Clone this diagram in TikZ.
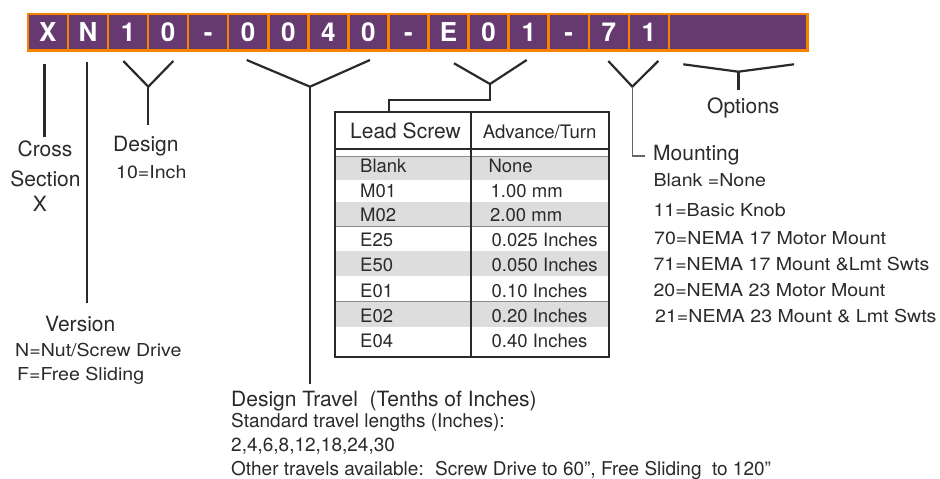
\documentclass[tikz,border=0pt]{standalone}
\usepackage{fontspec}
\setmainfont{TeX Gyre Heros}
\newfontfamily\widefont{TeX Gyre Heros}[FakeStretch=1.1]
\definecolor{barpurple}{HTML}{663A70}
\definecolor{barorange}{HTML}{F58200}
\definecolor{rowgray}{HTML}{DDDDDD}
\definecolor{ink}{HTML}{2A2A2A}
\begin{document}
\begin{tikzpicture}[x=1pt,y=-1pt,
  lbl/.style={font=\fontsize{21}{25}\selectfont, inner sep=0pt, text=ink},
  sm/.style={font=\widefont\fontsize{17.8}{22}\selectfont, inner sep=0pt, text=ink},
  tb/.style={font=\fontsize{18.5}{22}\selectfont, inner sep=0pt, text=ink},
  bt/.style={font=\fontsize{19}{23}\selectfont, inner sep=0pt, text=ink},
  cellbox/.style={draw=barorange, line width=2.6pt, fill=barpurple, minimum width=40.075pt, minimum height=36.7pt, inner sep=0pt, text height=18.7pt, text depth=0pt, text=white, font=\bfseries\fontsize{26}{30}\selectfont},
  brk/.style={line width=2.2pt, draw=ink},
  stem/.style={line width=1.6pt, draw=black!60},
  tabline/.style={line width=2.3pt, draw=ink},
  rowline/.style={line width=0.8pt, draw=black!45},
  ]
\useasboundingbox (0,0) rectangle (940,479);

% ---- code bar ----
\foreach \c [count=\i from 0] in {X,N,1,0,-,0,0,4,0,-,E,0,1,-,7,1}
  \node[cellbox] (c\i) at ({27.8+40.075*(\i+0.5)}, 32.15) {\c};
\node[cellbox, minimum width=138.3pt] (c16) at (738.15,32.15) {};

% ---- coordinates of brackets ----
\coordinate (crossT) at (44.5,64.3);  \coordinate (crossB) at (44.5,136.7);
\coordinate (verT) at (86.7,62.3);    \coordinate (verB) at (86.7,303.3);
\coordinate (dL) at (123.3,61); \coordinate (dV) at (148.3,86.7);
\coordinate (dR) at (173.3,61); \coordinate (dS) at (148.3,125);
\coordinate (tL) at (246.7,60); \coordinate (tV) at (310,86.7);
\coordinate (tR) at (370,60);   \coordinate (tS) at (310,384);
\coordinate (lL) at (454,63.3); \coordinate (lV) at (490,84);
\coordinate (lR) at (526.7,60); \coordinate (lE) at (389.3,100);
\coordinate (tabTop) at (389.3,112.2);
\coordinate (mL) at (608.3,61); \coordinate (mV) at (632.3,86.7);
\coordinate (mR) at (658.3,61); \coordinate (mE) at (645,156);
\coordinate (oL) at (683.3,64.3); \coordinate (oV) at (738.3,71.7);
\coordinate (oR) at (794,64.3);   \coordinate (oS) at (738.3,90);

\draw[brk] (crossT) -- (crossB);
\draw[brk] (verT) -- (verB);
\draw[brk] (dL) -- (dV) -- (dR);  \draw[brk] (dV) -- (dS);
\draw[brk] (tL) -- (tV) -- (tR);  \draw[brk] (tV) -- (tS);
\draw[brk] (lL) -- (lV) -- (lR);
\draw[brk] (lV) |- (lE) -- (tabTop);
\draw[brk] (mL) -- (mV) -- (mR);
\draw[stem] (mV) |- (mE);
\draw[brk] (oL) -- (oV) -- (oR);
\draw[line width=3pt, draw=ink] (oV) -- (oS);

% ---- table ----
\coordinate (tabNW) at (335,112.2); \coordinate (tabSE) at (609,357.2);
\fill[rowgray] (335,156.7) rectangle (609,180);
\fill[rowgray] (335,201.7) rectangle (609,226);
\fill[rowgray] (335,250.7) rectangle (609,276);
\fill[rowgray] (335,301.7) rectangle (609,326.7);
\draw[rowline] (335,156.7) -- (609,156.7);
\draw[rowline] (335,226) -- (609,226);
\draw[rowline] (335,301.7) -- (609,301.7);
\draw[tabline] (tabNW) rectangle (tabSE);
\draw[tabline] (335,148.7) -- (609,148.7);
\draw[tabline] (471.3,112.2) -- (471.3,357.2);

\node[lbl, anchor=base west] (hLead) at (350,138.3) {Lead Screw};
\node[tb, font=\fontsize{18.6}{22}\selectfont, anchor=base west] (hAdv) at (482.7,138.3) {Advance/Turn};

\node[tb, anchor=base west] (r1a) at (360,172.7) {Blank};
\node[tb, anchor=base west] (r1b) at (488.3,172.7) {None};
\node[tb, anchor=base west] (r2a) at (360,197.3) {M01};
\node[tb, anchor=base west] (r2b) at (490.5,197.3) {1.00 mm};
\node[tb, anchor=base west] (r3a) at (360,221.7) {M02};
\node[tb, anchor=base west] (r3b) at (490,221.7) {2.00 mm};
\node[tb, anchor=base west] (r4a) at (360,246) {E25};
\node[tb, anchor=base west] (r4b) at (491.5,246) {0.025 Inches};
\node[tb, anchor=base west] (r5a) at (360,271) {E50};
\node[tb, anchor=base west] (r5b) at (491.5,271) {0.050 Inches};
\node[tb, anchor=base west] (r6a) at (360,297.3) {E01};
\node[tb, anchor=base west] (r6b) at (491.5,297.3) {0.10 Inches};
\node[tb, anchor=base west] (r7a) at (360,322.7) {E02};
\node[tb, anchor=base west] (r7b) at (491.5,322.7) {0.20 Inches};
\node[tb, anchor=base west] (r8a) at (360,347.3) {E04};
\node[tb, anchor=base west] (r8b) at (491.5,347.3) {0.40 Inches};

% ---- labels ----
\node[lbl, anchor=base] (cross1) at (45,156.7) {Cross};
\node[lbl, anchor=base] (cross2) at (45.5,186.7) {Section};
\node[lbl, anchor=base] (cross3) at (40,211.7) {X};

\node[lbl, anchor=base west] (design) at (113,151.7) {Design};
\node[sm, anchor=base west] (design2) at (116,178.3) {10=Inch};

\node[lbl, anchor=base west] (version) at (45,331.7) {Version};
\node[sm, anchor=base west] (version2) at (15,356.7) {N=Nut/Screw Drive};
\node[sm, anchor=base west] (version3) at (17,380.7) {F=Free Sliding};

\node[lbl, anchor=base west] (travel) at (231,406) {Design Travel~~(Tenths of Inches)};
\node[bt, anchor=base west] (travel2) at (231,427) {Standard travel lengths (Inches):};
\node[bt, anchor=base west] (travel3) at (231,451) {2,4,6,8,12,18,24,30};
\node[bt, anchor=base west] (travel4) at (231,475) {Other travels available:\hspace{0.6em}Screw Drive to 60”, Free Sliding\hspace{0.55em}to 120”};

\node[lbl, anchor=base west] (options) at (707,113.3) {Options};

\node[lbl, anchor=base west] (mount) at (653,160.7) {Mounting};
\node[sm, anchor=base west] (m1) at (653.3,186.5) {Blank =None};
\node[sm, anchor=base west] (m2) at (653.3,216.7) {11=Basic Knob};
\node[sm, anchor=base west] (m3) at (654,244.3) {70=NEMA 17 Motor Mount};
\node[sm, anchor=base west] (m4) at (653.3,270) {71=NEMA 17 Mount \&Lmt Swts};
\node[sm, anchor=base west] (m5) at (653.3,296.7) {20=NEMA 23 Motor Mount};
\node[sm, anchor=base west] (m6) at (655,322.7) {21=NEMA 23 Mount \& Lmt Swts};
\end{tikzpicture}
\end{document}
